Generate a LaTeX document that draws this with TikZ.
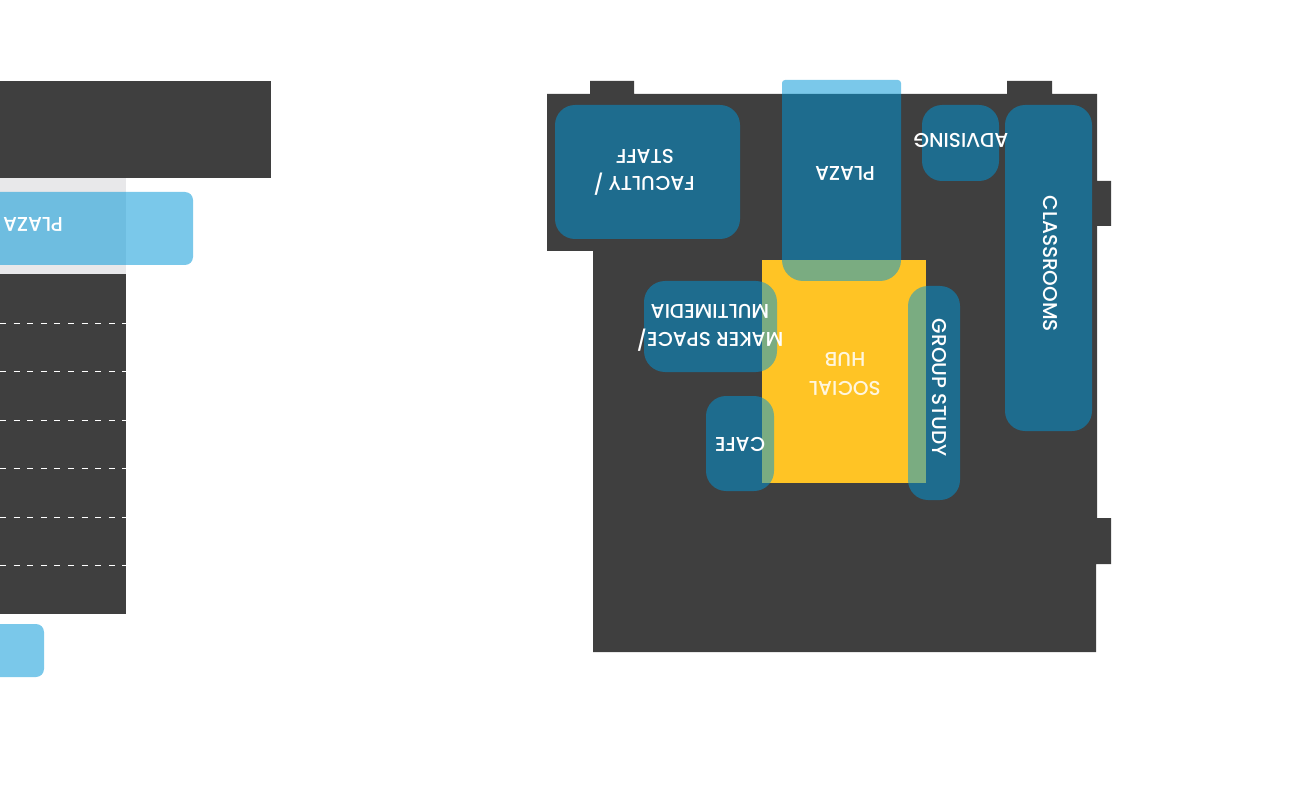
\documentclass[tikz,border=0pt]{standalone}
\usepackage{fontspec}
\setmainfont{Poppins Medium}
\definecolor{wall}{RGB}{63,63,63}
\definecolor{zoneblue}{RGB}{0,150,215}
\definecolor{hub}{RGB}{255,196,37}
\definecolor{band}{RGB}{232,232,234}
\tikzset{
  zone/.style={fill=zoneblue,fill opacity=.52,draw=none},
  lab/.style={text=white,font=\fontsize{20}{22}\selectfont,inner sep=0pt,rotate=180,yshift=1.5pt},
  sidelab/.style={text=white,font=\fontsize{20}{22}\selectfont,inner sep=0pt,rotate=-90},
  seam/.style={white,line width=.7pt,dash pattern=on 6pt off 7.6pt}
}
\begin{document}
\begin{tikzpicture}[x=1pt,y=-1pt]
\useasboundingbox (0,0) rectangle (1293,810);
\clip (0,0) rectangle (1293,810);
% left section
\fill[wall] (-10,81) rectangle (271,178);
\fill[band] (-10,178) rectangle (126,274);
\fill[wall] (-10,274) rectangle (126,614);
\foreach \yy in {323,371,420,468,517,565}
  \draw[seam] (0,\yy) -- (127,\yy);
\fill[zone,rounded corners=8pt] (-80,192) rectangle (193,265);
\fill[zone,rounded corners=8pt] (-80,624) rectangle (44,677);
\node[lab] (plazaleft) at (33,223) {PLAZA};
% right plan
\fill[wall] (547,94) -- (590,94) -- (590,81) -- (634,81) -- (634,94) -- (1007,94) -- (1007,81) -- (1052,81) -- (1052,94) -- (1097,94) -- (1097,181) -- (1111,181) -- (1111,226) -- (1097,226) -- (1097,518) -- (1111,518) -- (1111,564) -- (1096,564) -- (1096,652) -- (593,652) -- (593,251) -- (547,251) -- cycle;
\fill[hub] (762,260) rectangle (926,483);
\fill[zone,rounded corners=20pt] (555,105) rectangle (740,239);
\fill[zone,rounded corners=20pt] (922,105) rectangle (999,181);
\fill[zone,rounded corners=20pt] (1005,105) rectangle (1092,431);
\fill[zone,rounded corners=21pt] (644,281) rectangle (777,372);
\fill[zone,rounded corners=20pt] (706,396) rectangle (774,491);
\fill[zone,rounded corners=20pt] (908,286) rectangle (960,500);
\fill[zone] (841,80) [rounded corners=3pt] -- (901,80) [rounded corners=21pt] -- (901,281) -- (782,281) [rounded corners=3pt] -- (782,80) -- cycle;
\node[lab] (faculty) at (644,183) {FACULTY /};
\node[lab] (staff) at (645,155) {STAFF};
\node[lab] (plaza) at (845,172) {PLAZA};
\node[lab] (advising) at (961,139) {ADVISING};
\node[sidelab] (classrooms) at (1050,264) {CLASSROOMS};
\node[lab] (maker) at (710,339) {MAKER SPACE/};
\node[lab] (multimedia) at (710,310) {MULTIMEDIA};
\node[lab] (cafe) at (740,443) {CAFE};
\node[lab,text=white!85!hub] (social) at (845,387) {SOCIAL};
\node[lab,text=white!85!hub] (hubtext) at (845,358) {HUB};
\node[sidelab] (group) at (939,388) {GROUP STUDY};
\end{tikzpicture}
\end{document}
